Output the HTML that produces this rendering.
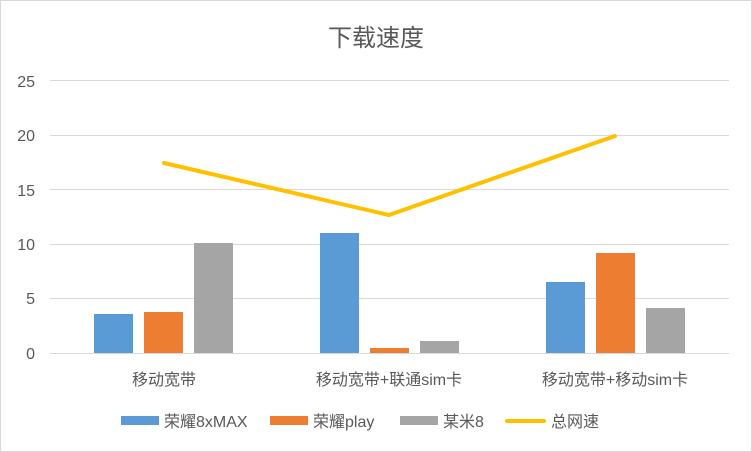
<!DOCTYPE html>
<html><head><meta charset="utf-8"><style>
body{margin:0;background:#fff}
svg{display:block}
text{font-family:"Liberation Sans","Noto Sans CJK SC",sans-serif;fill:#595959}
</style></head><body>
<svg width="752" height="452" viewBox="0 0 752 452">
<rect x="0.5" y="0.5" width="751" height="451" fill="#fff" stroke="#d9d9d9"/>
<text x="376" y="46" font-size="24" text-anchor="middle">下载速度</text>
<g stroke="#d9d9d9" stroke-width="1">
<line x1="50" x2="729" y1="80.5" y2="80.5"/>
<line x1="50" x2="729" y1="135.5" y2="135.5"/>
<line x1="50" x2="729" y1="189.5" y2="189.5"/>
<line x1="50" x2="729" y1="244.5" y2="244.5"/>
<line x1="50" x2="729" y1="298.5" y2="298.5"/>
<line x1="50" x2="729" y1="353.5" y2="353.5"/>
</g>
<g font-size="16" text-anchor="end">
<text x="35" y="87">25</text><text x="35" y="141">20</text><text x="35" y="196">15</text>
<text x="35" y="250">10</text><text x="35" y="304">5</text><text x="35" y="359">0</text>
</g>
<g fill="#5b9bd5"><rect x="94" y="314" width="39" height="39"/><rect x="320" y="233" width="39" height="120"/><rect x="546" y="282" width="39" height="71"/></g>
<g fill="#ed7d31"><rect x="144" y="312" width="39" height="41"/><rect x="370" y="348" width="39" height="5"/><rect x="596" y="253" width="39" height="100"/></g>
<g fill="#a5a5a5"><rect x="194" y="243" width="39" height="110"/><rect x="420" y="341" width="39" height="12"/><rect x="646" y="308" width="39" height="45"/></g>
<polyline points="164,163 389,215 615,136" fill="none" stroke="#ffc000" stroke-width="4" stroke-linecap="round" stroke-linejoin="round"/>
<g font-size="16" text-anchor="middle">
<text x="164" y="385">移动宽带</text>
<text x="389" y="385">移动宽带+联通sim卡</text>
<text x="615" y="385">移动宽带+移动sim卡</text>
</g>
<g font-size="16">
<rect x="121" y="416" width="38" height="9" fill="#5b9bd5"/><text x="164" y="427">荣耀8xMAX</text>
<rect x="270" y="416" width="38" height="9" fill="#ed7d31"/><text x="313" y="427">荣耀play</text>
<rect x="400" y="416" width="38" height="9" fill="#a5a5a5"/><text x="443" y="427">某米8</text>
<line x1="507" x2="544" y1="421" y2="421" stroke="#ffc000" stroke-width="4" stroke-linecap="round"/><text x="551" y="427">总网速</text>
</g>
</svg>
</body></html>
